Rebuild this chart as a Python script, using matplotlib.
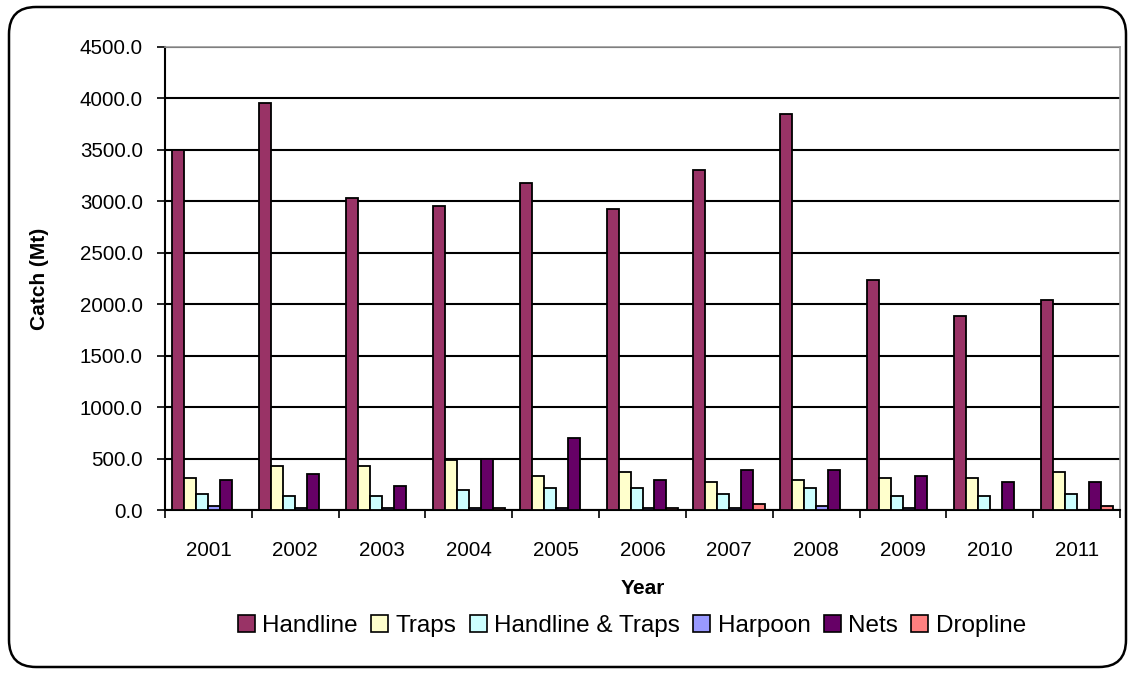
import numpy as np
import matplotlib.pyplot as plt
from matplotlib.patches import FancyBboxPatch, Patch

plt.rcParams['font.family'] = ['Liberation Sans', 'DejaVu Sans']

years = ['2001', '2002', '2003', '2004', '2005', '2006', '2007', '2008', '2009', '2010', '2011']
gears = ['Handline', 'Traps', 'Handline & Traps', 'Harpoon', 'Nets', 'Dropline']

handline = [3500, 3960, 3030, 2950, 3180, 2930, 3300, 3845, 2235, 1885, 2040]
traps = [307, 424, 424, 482, 326, 365, 268, 287, 307, 307, 365]
handline_traps = [152, 132, 132, 190, 213, 213, 152, 213, 132, 132, 152]
harpoon = [35, 15, 15, 15, 15, 15, 15, 35, 15, 0, 0]
nets = [291, 346, 229, 498, 699, 291, 388, 391, 326, 268, 268]
dropline = [0, 0, 0, 15, 0, 15, 54, 0, 0, 0, 35]

series = [handline, traps, handline_traps, harpoon, nets, dropline]
colors = ['#993366', '#FFFFCC', '#CCFFFF', '#9999FF', '#660066', '#FF8080']

fig = plt.figure(figsize=(11.28, 6.75), dpi=100)
ax = fig.add_axes([165 / 1128, 1 - 510 / 675, (1120 - 165) / 1128, (510 - 47) / 675])

# rounded frame round the whole chart
frame = FancyBboxPatch((9 / 1128, 8 / 675), 1117 / 1128, 660 / 675,
                       boxstyle='round,pad=0,rounding_size=0.024',
                       transform=fig.transFigure, facecolor='none',
                       edgecolor='black', linewidth=1.8, mutation_aspect=1128 / 675)
fig.patches.append(frame)

x = np.arange(len(years))
w = 0.138
for i, (vals, c) in enumerate(zip(series, colors)):
    offs = (i - 2.5) * w
    ax.bar(x + offs, vals, width=w, color=c, edgecolor='black', linewidth=1.3,
           label=gears[i], zorder=3)

ax.set_xlim(-0.5, len(years) - 0.5)
ax.set_ylim(0, 4500)
ax.set_yticks(np.arange(0, 4501, 500))
ax.set_yticklabels(['%.1f' % v for v in np.arange(0, 4501, 500)], fontsize=14.8)
ax.yaxis.grid(True, color='black', linewidth=1.5, zorder=0)
ax.set_axisbelow(True)

ax.set_xticks(x)
ax.set_xticklabels(years, fontsize=14.8)
ax.set_xticks(np.arange(-0.5, len(years)), minor=True)
ax.tick_params(axis='x', which='major', length=0, pad=22)
ax.tick_params(axis='x', which='minor', length=6, width=1.2, direction='out')
ax.tick_params(axis='y', length=6, width=1.2, direction='out', pad=10)

for s in ['top', 'right']:
    ax.spines[s].set_color('#999999')
    ax.spines[s].set_linewidth(1.2)
for s in ['left', 'bottom']:
    ax.spines[s].set_color('black')
    ax.spines[s].set_linewidth(1.5)

ax.set_ylabel('Catch (Mt)', fontsize=15, fontweight='bold', labelpad=22)
fig.text((165 + 1120) / 2 / 1128, 1 - 588 / 675, 'Year', fontsize=15,
         fontweight='bold', ha='center', va='center')

handles = [Patch(facecolor=c, edgecolor='black', linewidth=1.2) for c in colors]
fig.legend(handles, gears, loc='center', bbox_to_anchor=(632 / 1128, 1 - 626 / 675),
           ncol=6, frameon=False, fontsize=17.5, handlelength=0.7, handleheight=0.7,
           handletextpad=0.3, columnspacing=0.55)

fig.savefig('out.png', dpi=100)
